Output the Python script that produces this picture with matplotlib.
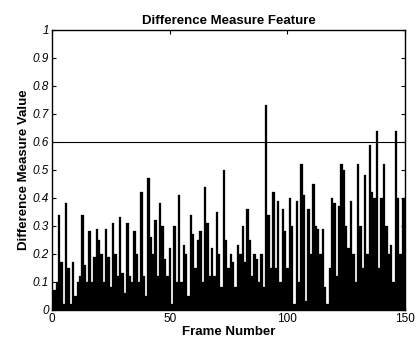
import numpy as np
import matplotlib
matplotlib.use("Agg")
import matplotlib.pyplot as plt

plt.rcParams["font.family"] = ["Liberation Sans", "DejaVu Sans"]

# difference measure per frame (frames 1..150)
frames = np.arange(1, 151)
diff_values = [
    0.07, 0.10, 0.34, 0.17, 0.02, 0.38, 0.15, 0.02, 0.17, 0.05,
    0.10, 0.12, 0.34, 0.16, 0.10, 0.28, 0.10, 0.19, 0.29, 0.25,
    0.20, 0.10, 0.29, 0.19, 0.08, 0.31, 0.20, 0.12, 0.33, 0.13,
    0.06, 0.31, 0.12, 0.10, 0.28, 0.20, 0.10, 0.42, 0.12, 0.05,
    0.47, 0.26, 0.20, 0.32, 0.12, 0.38, 0.30, 0.18, 0.12, 0.22,
    0.02, 0.30, 0.10, 0.41, 0.10, 0.23, 0.20, 0.05, 0.34, 0.27,
    0.15, 0.25, 0.28, 0.10, 0.44, 0.31, 0.12, 0.22, 0.12, 0.35,
    0.20, 0.08, 0.50, 0.25, 0.15, 0.20, 0.17, 0.08, 0.23, 0.20,
    0.30, 0.17, 0.36, 0.25, 0.12, 0.20, 0.18, 0.10, 0.20, 0.08,
    0.73, 0.34, 0.15, 0.42, 0.15, 0.39, 0.10, 0.36, 0.28, 0.15,
    0.40, 0.30, 0.02, 0.39, 0.10, 0.52, 0.41, 0.03, 0.36, 0.20,
    0.45, 0.30, 0.29, 0.20, 0.29, 0.08, 0.02, 0.15, 0.40, 0.38,
    0.12, 0.37, 0.52, 0.50, 0.30, 0.22, 0.39, 0.20, 0.10, 0.52,
    0.30, 0.15, 0.48, 0.20, 0.59, 0.42, 0.40, 0.64, 0.15, 0.40,
    0.52, 0.30, 0.20, 0.23, 0.10, 0.64, 0.40, 0.20, 0.40, 0.40,
]
threshold = 0.6

x_ticks = [0, 50, 100, 150]
y_ticks = [0, 0.1, 0.2, 0.3, 0.4, 0.5, 0.6, 0.7, 0.8, 0.9, 1]
y_tick_labels = ["0", "0.1", "0.2", "0.3", "0.4", "0.5", "0.6", "0.7", "0.8", "0.9", "1"]

fig = plt.figure(figsize=(4.16, 3.47), dpi=100)
ax = fig.add_axes([0.125, 0.107, 0.849, 0.807])

ax.bar(frames, diff_values, width=1.0, color="black", edgecolor="black", linewidth=0.2)
ax.axhline(threshold, color="black", linewidth=0.8)

ax.set_xlim(0, 150)
ax.set_ylim(0, 1)
ax.set_xticks(x_ticks)
ax.set_yticks(y_ticks)
ax.set_yticklabels(y_tick_labels)
ax.tick_params(direction="in", length=3, labelsize=8.5, top=True, right=True, pad=2)
for lbl in ax.get_yticklabels():
    lbl.set_fontstyle("italic")
for sp in ax.spines.values():
    sp.set_linewidth(1.0)

ax.set_title("Difference Measure Feature", fontsize=9.5, fontweight="bold", pad=4)
ax.set_xlabel("Frame Number", fontsize=9.5, fontweight="bold", labelpad=1)
ax.set_ylabel("Difference Measure Value", fontsize=9.5, fontweight="bold", labelpad=2)

fig.savefig("out.png", dpi=100)
